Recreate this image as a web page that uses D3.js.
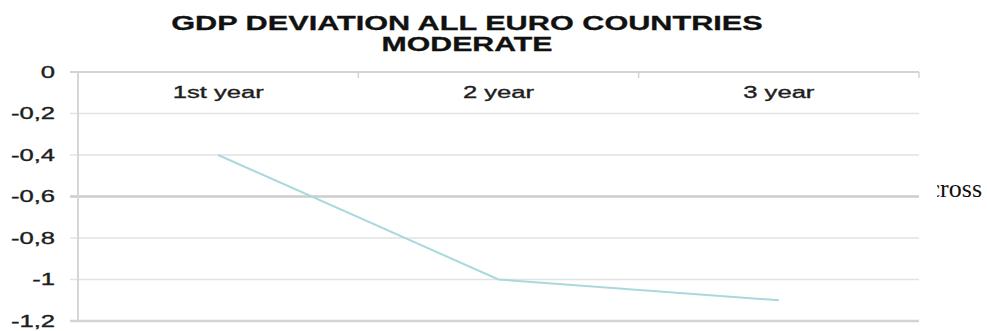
<!DOCTYPE html>
<html><head><meta charset="utf-8">
<script src="https://cdn.jsdelivr.net/npm/d3@7"></script>
<style>
html,body{margin:0;padding:0;background:#fff;}
svg{display:block;}
</style></head>
<body>
<script>
const titleLines = ["GDP DEVIATION ALL EURO COUNTRIES", "MODERATE"];
const categories = ["1st year", "2 year", "3 year"];
const values = [-0.4, -1.0, -1.1];
const yTicks = [0, -0.2, -0.4, -0.6, -0.8, -1, -1.2];
const sideText = "cross";

(function() {
const W = 987, H = 331;
const svg = d3.select("body").append("svg").attr("width", W).attr("height", H);
const pLeft = 78, pRight = 919, pTop = 72, pBottom = 321;
const STRETCH = 1.6;

const x = d3.scaleBand().domain(categories).range([pLeft, pRight]);
const y = d3.scaleLinear().domain([-1.2, 0]).range([pBottom, pTop]);
const fmt = d => String(d).replace(".", ",");

function stretchText(sel, k) {
  sel.each(function() {
    const t = d3.select(this);
    const tx = +t.attr("data-x"), ty = +t.attr("data-y");
    t.attr("transform", `translate(${tx},${ty}) scale(${k},1)`);
  });
}

// gridlines
const grid = svg.append("g");
grid.selectAll("line").data(yTicks).join("line")
  .attr("x1", pLeft - 8).attr("x2", pRight)
  .attr("y1", d => y(d)).attr("y2", d => y(d))
  .attr("stroke", d => (d === -0.6 ? "#cdcdcd" : (d === 0 || d === -1.2) ? "#d3d3d3" : "#e2e2e2"))
  .attr("stroke-width", d => (d === -0.6 || d === -1.2) ? 2.5 : d === 0 ? 2 : 1.5);

// vertical axis line
svg.append("line").attr("x1", pLeft).attr("x2", pLeft).attr("y1", y(0)).attr("y2", y(-1.2))
  .attr("stroke", "#d6d6d6").attr("stroke-width", 2);

// category ticks at band boundaries
const bounds = categories.map(c => x(c) + x.bandwidth());
svg.append("g").selectAll("line").data(bounds).join("line")
  .attr("x1", d => d).attr("x2", d => d).attr("y1", y(0)).attr("y2", y(0) + 6)
  .attr("stroke", "#d3d3d3").attr("stroke-width", 1.5);

// y labels
svg.append("g").selectAll("text").data(yTicks).join("text")
  .attr("data-x", 55).attr("data-y", d => y(d) + 0.5)
  .attr("text-anchor", "end").attr("dominant-baseline", "central")
  .attr("font-family", "Liberation Sans, Arial, sans-serif").attr("font-size", 16)
  .attr("fill", "#1e1e1e").attr("stroke", "#1e1e1e").attr("stroke-width", 0.35)
  .text(d => fmt(d))
  .call(stretchText, STRETCH);

// category labels
svg.append("g").selectAll("text").data(categories).join("text")
  .attr("data-x", d => x(d) + x.bandwidth() / 2).attr("data-y", 98)
  .attr("text-anchor", "middle")
  .attr("font-family", "Liberation Sans, Arial, sans-serif").attr("font-size", 16)
  .attr("fill", "#1e1e1e").attr("stroke", "#1e1e1e").attr("stroke-width", 0.35)
  .text(d => d)
  .call(stretchText, STRETCH);

// line
const line = d3.line().x((d, i) => x(categories[i]) + x.bandwidth() / 2).y(d => y(d));
svg.append("path").datum(values).attr("d", line)
  .attr("fill", "none").attr("stroke", "#a9d9dd").attr("stroke-width", 2);

// title
const titleWidths = [592, 171];
const titleY = [30, 51];
const tg = svg.append("g");
titleLines.forEach((t, i) => {
  const el = tg.append("text")
    .attr("text-anchor", "middle")
    .attr("font-family", "Liberation Sans, Arial, sans-serif").attr("font-weight", "bold")
    .attr("font-size", 20).attr("fill", "#111").attr("stroke", "#111").attr("stroke-width", 0.3)
    .text(t);
  const len = el.node().getComputedTextLength();
  el.attr("transform", `translate(467,${titleY[i]}) scale(${titleWidths[i] / len},1)`);
});

// side text fragment (clipped)
svg.append("clipPath").attr("id", "sideclip").append("rect")
  .attr("x", 937).attr("y", 150).attr("width", 60).attr("height", 80);
svg.append("text").attr("clip-path", "url(#sideclip)")
  .attr("x", 982).attr("y", 197).attr("text-anchor", "end")
  .attr("font-family", "Liberation Serif, Times New Roman, serif").attr("font-size", 26)
  .attr("fill", "#111")
  .text(sideText);
})();
</script>
</body></html>
